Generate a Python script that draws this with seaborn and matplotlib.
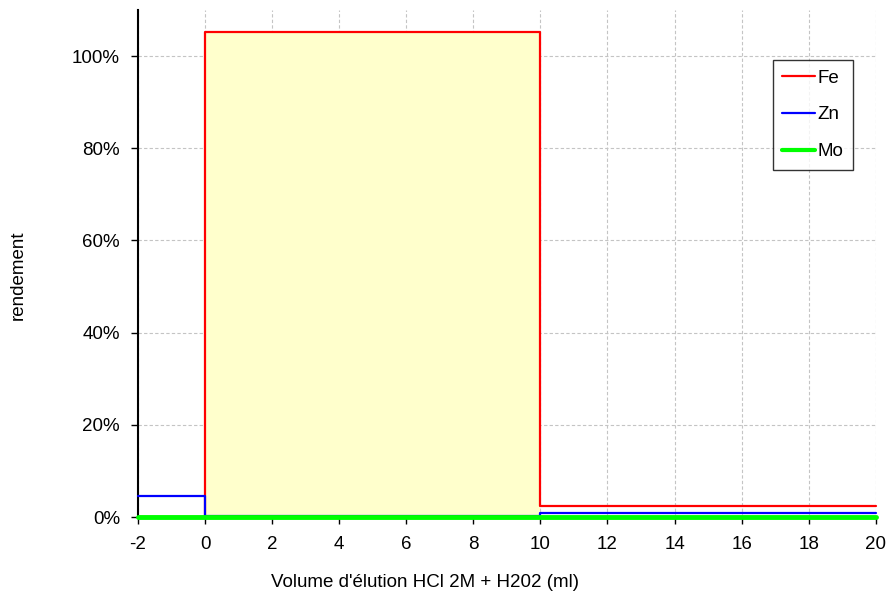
import matplotlib
matplotlib.use("Agg")
import matplotlib.pyplot as plt
import seaborn as sns
import pandas as pd
from matplotlib.ticker import PercentFormatter

# step edges (ml) and yields (%)
volume = [-2, 0, 10, 20]
fe = [0.0, 105.2, 2.4, 2.4]
zn = [4.6, 0.2, 0.9, 0.9]
mo = [0.0, 0.0, 0.0, 0.0]
series = ["Fe", "Zn", "Mo"]
colors = {"Fe": "#ff0000", "Zn": "#0000ff", "Mo": "#00ff00"}
widths = {"Fe": 1.6, "Zn": 1.6, "Mo": 3.5}

df = pd.DataFrame({"volume": volume, "Fe": fe, "Zn": zn, "Mo": mo})
long = df.melt(id_vars="volume", var_name="element", value_name="rendement")

sns.set_style("ticks")
plt.rcParams["font.family"] = ["Liberation Sans", "DejaVu Sans"]
plt.rcParams["axes.unicode_minus"] = False
plt.rcParams["text.color"] = "black"
plt.rcParams["axes.labelcolor"] = "black"
plt.rcParams["xtick.color"] = "black"
plt.rcParams["ytick.color"] = "black"

fig = plt.figure(figsize=(8.9, 5.94), dpi=100)
ax = fig.add_axes([0.155, 0.1296, 0.829, 0.8535])

# yellow zone under the Fe step (0-10 ml)
ax.axvspan(df["volume"][1], df["volume"][2], ymax=df["Fe"][1] / 110,
           color="#ffffcc", zorder=1, linewidth=0)

for i, el in enumerate(series):
    sub = long[long["element"] == el]
    sns.lineplot(data=sub, x="volume", y="rendement", ax=ax,
                 drawstyle="steps-post", color=colors[el],
                 linewidth=widths[el], label=el, zorder=3 + i, clip_on=False)

ax.set_xlim(-2, 20)
ax.set_ylim(0, 110)
ax.set_xticks(range(-2, 21, 2))
ax.set_yticks(range(0, 101, 20))
ax.yaxis.set_major_formatter(PercentFormatter(decimals=0))
ax.grid(True, color="#c4c4c4", linestyle=(0, (3, 2)), linewidth=0.8, zorder=0)
ax.set_axisbelow(True)
for s in ["top", "right", "bottom"]:
    ax.spines[s].set_visible(False)
ax.spines["left"].set_linewidth(1.5)
ax.spines["left"].set_color("black")
ax.tick_params(axis="both", labelsize=13.5, length=5, width=1,
               color="black", labelcolor="black")
ax.tick_params(axis="x", pad=9)
ax.tick_params(axis="y", pad=8)

ax.set_xlabel("Volume d'élution HCl 2M + H202 (ml)", fontsize=13.5)
ax.set_ylabel("rendement", fontsize=13.5)
ax.xaxis.set_label_coords((425 - 138) / 738, (517 - 582) / 507)
ax.yaxis.set_label_coords((18 - 138) / 738, (517 - 275) / 507)
ax.xaxis.label.set_va("center")
ax.yaxis.label.set_va("center")

leg = ax.legend(loc="upper right", bbox_to_anchor=((853 - 138) / 738, (517 - 60) / 507),
                frameon=True, fancybox=False, edgecolor="black", fontsize=13.5,
                handlelength=1.75, handletextpad=0.15, labelspacing=1.05,
                borderpad=0.5, borderaxespad=0)
leg.get_frame().set_linewidth(1.0)
for t in leg.get_texts():
    t.set_color("black")
for h, el in zip(leg.get_lines(), series):
    h.set_linewidth(widths[el] if el != "Mo" else 3.0)

fig.savefig("out.png", dpi=100)
